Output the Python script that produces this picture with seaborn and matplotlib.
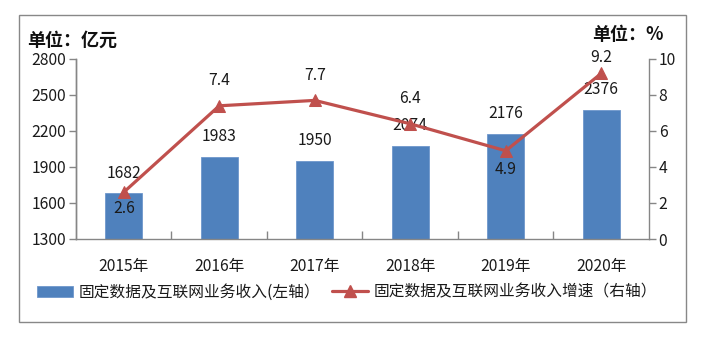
import matplotlib
matplotlib.use("Agg")
import matplotlib.pyplot as plt
import seaborn as sns
import numpy as np
import pandas as pd
from matplotlib.lines import Line2D
from matplotlib.patches import Patch, Rectangle

years = ["2015年", "2016年", "2017年", "2018年", "2019年", "2020年"]
revenue = [1682, 1983, 1950, 2074, 2176, 2376]
growth = [2.6, 7.4, 7.7, 6.4, 4.9, 9.2]
growth_label_above = [False, True, True, True, False, True]
left_ticks = [1300, 1600, 1900, 2200, 2500, 2800]
right_ticks = [0, 2, 4, 6, 8, 10]
bar_name = "固定数据及互联网业务收入(左轴）"
line_name = "固定数据及互联网业务收入增速（右轴）"

sns.set_theme(style="white")
plt.rcParams['font.family'] = ['Noto Sans CJK SC', 'DejaVu Sans']

W, H = 709, 338
fig = plt.figure(figsize=(W / 100, H / 100), dpi=100)
ax = fig.add_axes([76 / W, 1 - 239 / H, (649 - 76) / W, (239 - 59) / H])

BAR = "#4F81BD"
LINE = "#C0504D"
GRAY = "#868686"
TXT = "#1a1a1a"

df = pd.DataFrame({"year": years, "revenue": revenue, "growth": growth})
sns.barplot(data=df, x="year", y="revenue", ax=ax, color=BAR, width=0.39,
            saturation=1, edgecolor="#6F97CC", linewidth=0.6)
ax.set_ylim(left_ticks[0], left_ticks[-1])
ax.set_yticks(left_ticks)
ax.set_xlim(-0.5, len(years) - 0.5)
ax.set_xlabel("")
ax.set_ylabel("")

ax2 = ax.twinx()
sns.lineplot(x=np.arange(len(years)), y=df["growth"], ax=ax2, color=LINE,
             linewidth=2.3, marker="^", markersize=8, markeredgecolor=LINE)
ax2.set_ylim(right_ticks[0], right_ticks[-1])
ax2.set_yticks(right_ticks)
ax2.set_ylabel("")

for a in (ax, ax2):
    for s in a.spines.values():
        s.set_color(GRAY)
        s.set_linewidth(1)
    a.spines["top"].set_visible(False)
ax.spines["right"].set_visible(False)
ax2.spines["bottom"].set_visible(False)

ax.tick_params(axis="y", left=True, length=5, width=1, color=GRAY, pad=2,
               labelsize=11.3, labelcolor=TXT)
ax.tick_params(axis="x", bottom=False, labelsize=11.3, pad=8, labelcolor=TXT)
ax.set_xticks(np.arange(0.5, len(years) - 0.5), minor=True)
ax.tick_params(axis="x", which="minor", bottom=True, direction="in", length=6,
               width=1, color=GRAY)
ax2.tick_params(axis="y", right=True, length=5, width=1, color=GRAY, pad=2,
                labelsize=11.3, labelcolor=TXT)

# bar labels
for i, v in enumerate(revenue):
    ax.annotate(f"{v}", (i, v), xytext=(0, 14.5), textcoords="offset points",
                ha="center", va="center", fontsize=11.3, color=TXT)

# line labels
for i, (v, up) in enumerate(zip(growth, growth_label_above)):
    if i == len(growth) - 1:
        off = 11.5
    elif up:
        off = 18
    else:
        off = -12 if i == 0 else -13.5
    ax2.annotate(f"{v}", (i, v), xytext=(0, off), textcoords="offset points",
                 ha="center", va="center", fontsize=11.3, color=TXT)

fig.text(27 / W, 1 - 40 / H, "单位：亿元", fontsize=13, fontweight="bold",
         ha="left", va="center", color="#111111")
fig.text(664 / W, 1 - 34 / H, "单位：%", fontsize=13, fontweight="bold",
         ha="right", va="center", color="#111111")

handles = [Patch(facecolor=BAR, edgecolor="#6F97CC", linewidth=0.6),
           Line2D([], [], color=LINE, linewidth=2.3, marker="^", markersize=8)]
fig.legend(handles, [bar_name, line_name], loc="center",
           bbox_to_anchor=(347 / W, 1 - 292 / H), ncol=2, frameon=False,
           fontsize=11.3, handlelength=2.3, handleheight=0.7, handletextpad=0.4,
           columnspacing=0.7, labelcolor=TXT)

fig.patches.append(Rectangle((19 / W, 1 - 322 / H), (686 - 19) / W, (322 - 15) / H,
                             transform=fig.transFigure, fill=False,
                             edgecolor="#888888", linewidth=1))

fig.savefig("out.png", dpi=100)
